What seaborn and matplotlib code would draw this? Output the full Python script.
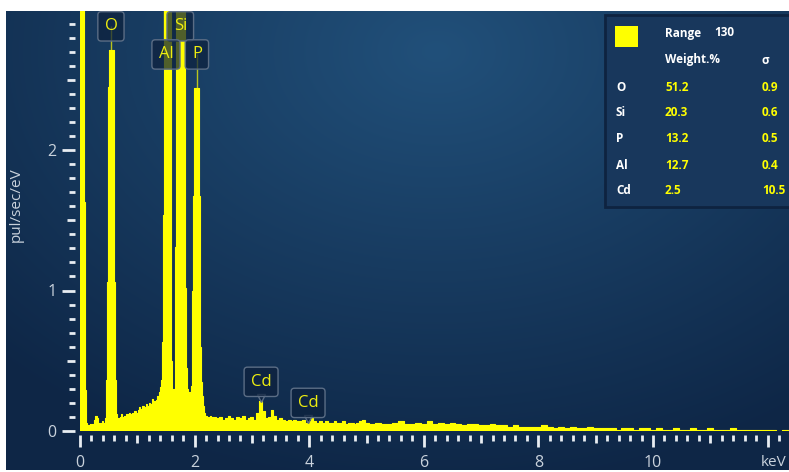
import numpy as np
import pandas as pd
import seaborn as sns
import matplotlib.pyplot as plt
from matplotlib.patches import Rectangle
from matplotlib.ticker import MultipleLocator
from matplotlib import transforms

# EDS spectrum, pul/sec/eV per channel
# channels: 0.02 keV up to 2.4 keV, 0.05 keV up to 5 keV, 0.1 keV after that
counts_fine = [
    5.0, 5.0, 5.0, 5.0, 1.63, 0.29, 0.06, 0.04, 0.04, 0.05,
    0.04, 0.05, 0.04, 0.08, 0.11, 0.09, 0.05, 0.06, 0.05, 0.06,
    0.07, 0.06, 0.09, 0.36, 1.06, 2.45, 2.71, 2.71, 2.71, 2.71,
    1.06, 0.36, 0.12, 0.08, 0.09, 0.10, 0.12, 0.09, 0.10, 0.11,
    0.10, 0.12, 0.11, 0.13, 0.12, 0.11, 0.13, 0.12, 0.14, 0.13,
    0.12, 0.15, 0.17, 0.16, 0.16, 0.18, 0.15, 0.17, 0.19, 0.16,
    0.18, 0.20, 0.19, 0.23, 0.21, 0.19, 0.21, 0.22, 0.25, 0.28,
    0.31, 0.36, 0.63, 1.54, 5.0, 5.0, 5.0, 5.0, 5.0, 5.0,
    0.50, 0.24, 0.30, 1.31, 5.0, 5.0, 5.0, 5.0, 5.0, 5.0,
    5.0, 5.0, 1.02, 0.45, 0.30, 0.27, 0.28, 0.32, 1.00, 1.67,
    2.44, 2.44, 2.44, 2.44, 1.67, 0.60, 0.35, 0.25, 0.18, 0.13,
    0.11, 0.10, 0.09, 0.10, 0.11, 0.09, 0.10, 0.09, 0.10, 0.09]
counts_mid = [
    0.09, 0.10, 0.08, 0.09, 0.11, 0.09, 0.08, 0.10, 0.09, 0.11,
    0.08, 0.09, 0.10, 0.08, 0.13, 0.21, 0.14, 0.09, 0.10, 0.15,
    0.11, 0.08, 0.09, 0.08, 0.07, 0.08, 0.07, 0.08, 0.07, 0.07,
    0.08, 0.06, 0.07, 0.10, 0.07, 0.06, 0.07, 0.06, 0.07, 0.06,
    0.06, 0.07, 0.06, 0.06, 0.07, 0.05, 0.06, 0.06, 0.05, 0.06,
    0.07, 0.08]
counts_tail = [
    0.06, 0.05, 0.06, 0.05, 0.05, 0.06, 0.07, 0.05, 0.05, 0.06,
    0.05, 0.07, 0.05, 0.06, 0.05, 0.06, 0.05, 0.04, 0.05, 0.05,
    0.04, 0.04, 0.05, 0.04, 0.04, 0.03, 0.04, 0.03, 0.03, 0.03,
    0.03, 0.04, 0.03, 0.02, 0.03, 0.02, 0.03, 0.02, 0.02, 0.03,
    0.02, 0.02, 0.02, 0.02, 0.01, 0.02, 0.02, 0.01, 0.02, 0.02,
    0.01, 0.02, 0.01, 0.01, 0.02, 0.01, 0.01, 0.02, 0.01, 0.01,
    0.02, 0.01, 0.01, 0.01, 0.02, 0.01, 0.01, 0.01, 0.01, 0.01,
    0.01, 0.01, 0.00, 0.01, 0.01]

# peak labels: name, keV, label height, top of the peak under it
peak_names = ['O', 'Si', 'Al', 'P', 'Cd', 'Cd']
peak_kev = [0.54, 1.75, 1.50, 2.04, 3.16, 3.98]
label_y = [2.88, 2.88, 2.68, 2.68, 0.35, 0.20]
peak_top = [2.71, None, None, 2.44, None, None]

# quantification table
elements = ['O', 'Si', 'P', 'Al', 'Cd']
weight_pct = ['51.2', '20.3', '13.2', '12.7', '2.5']
sigma = ['0.9', '0.6', '0.5', '0.4', '10.5']

YEL = '#ffff00'
TXT = '#c9d2dc'

energy = np.round(np.concatenate([np.arange(len(counts_fine)) * 0.02,
                                  2.4 + np.arange(len(counts_mid)) * 0.05,
                                  5.0 + np.arange(len(counts_tail)) * 0.1]), 3)
df = pd.DataFrame({'keV': energy, 'cps': counts_fine + counts_mid + counts_tail})

sns.set_theme(style='ticks')
plt.rcParams['font.family'] = ['Open Sans', 'DejaVu Sans']

W, H = 789, 472
fig = plt.figure(figsize=(W / 100, H / 100), dpi=100, facecolor='white')

def fx(px):
    return px / W

def fy(py):
    return 1 - py / H

# dark gradient background
bg = fig.add_axes([fx(6), 2 / H, fx(783), 459 / H], zorder=0)
yy, xx = np.mgrid[0:459, 0:783]
d = np.clip(np.sqrt(((xx - 430) / 620.0) ** 2 + ((yy - 40) / 440.0) ** 2), 0, 1)
c0 = np.array([33, 80, 122]) / 255.0
c1 = np.array([14, 38, 70]) / 255.0
img = c0[None, None, :] * (1 - d[..., None]) + c1[None, None, :] * d[..., None]
bg.imshow(img, aspect='auto', interpolation='bilinear')
bg.axis('off')

ax = fig.add_axes([fx(79), 41 / H, fx(710), 420 / H], zorder=1)
ax.patch.set_alpha(0)
sns.lineplot(data=df, x='keV', y='cps', drawstyle='steps-mid', color=YEL,
             lw=0.8, errorbar=None, ax=ax, zorder=2)
ax.fill_between(df['keV'], df['cps'], step='mid', color=YEL, lw=0, zorder=2)
ax.set_xlim(-1 / 57.3, 709 / 57.3)
ax.set_ylim(0, 420 / 140.5)
ax.set_xlabel('')
ax.set_ylabel('')
for s in ax.spines.values():
    s.set_visible(False)
ax.spines['left'].set_position(('outward', 3.2))
ax.spines['bottom'].set_position(('outward', 3.0))

# ticks
ax.set_xticks(np.arange(0, 13, 1))
ax.set_xticklabels([str(v) if v % 2 == 0 and v < 12 else '' for v in range(13)])
ax.xaxis.set_minor_locator(MultipleLocator(0.2))
ax.set_yticks([0, 0.5, 1, 1.5, 2, 2.5])
ax.set_yticklabels(['0', '', '1', '', '2', ''])
ax.yaxis.set_minor_locator(MultipleLocator(0.1))
ax.tick_params(axis='x', which='major', direction='out', length=8.6, width=2.0,
               color='#e8edf2', labelcolor=TXT, labelsize=11.5, pad=6)
ax.tick_params(axis='x', which='minor', direction='out', length=4.0, width=2.0,
               color='#e8edf2')
ax.tick_params(axis='y', which='major', direction='out', length=9.4, width=2.0,
               color='#e8edf2', labelcolor=TXT, labelsize=11.5, pad=3.5)
ax.tick_params(axis='y', which='minor', direction='out', length=4.3, width=2.0,
               color='#e8edf2')
for i, t in enumerate(ax.xaxis.get_major_ticks()):
    if i % 2 == 1:
        t.tick1line.set_markersize(5.8)
for i, t in enumerate(ax.yaxis.get_major_ticks()):
    if i % 2 == 1:
        t.tick1line.set_markersize(5.8)

# peak labels
box_fc = (0.05, 0.13, 0.24, 0.72)
box_ec = '#5b6d85'
notch = transforms.offset_copy(ax.transData, fig=fig, y=-16.5, units='dots')
for name, xk, yl, top in zip(peak_names, peak_kev, label_y, peak_top):
    if top is not None:
        ax.vlines(xk, top, yl, color=YEL, lw=1, alpha=0.7, zorder=3)
    ax.text(xk, yl, name, color='#eeee10', fontsize=12, ha='center', va='center',
            zorder=5, bbox=dict(boxstyle='round,pad=0.4,rounding_size=0.2',
                                fc=box_fc, ec=box_ec, lw=1))
    if name == 'Cd':
        ax.plot([xk], [yl], marker='v', ms=6, mfc=box_fc, mec=box_ec, mew=1,
                transform=notch, zorder=4, clip_on=False)
ax.vlines(1.47, 2.78, 3.0, color=YEL, lw=1, alpha=0.6, zorder=3)

# axis titles
fig.text(fx(16), fy(205), 'pul/sec/eV', rotation=90, color=TXT, fontsize=11,
         ha='center', va='center')
fig.text(fx(787), fy(462), 'keV', color=TXT, fontsize=11, ha='right', va='center')

# quantification panel
fig.patches.append(Rectangle((fx(605), fy(207)), fx(190), 192 / H, transform=fig.transFigure,
                             fc='#18375c', ec='#0e2340', lw=2, zorder=6))
fig.patches.append(Rectangle((fx(615), fy(47)), fx(23), 21 / H, transform=fig.transFigure,
                             fc=YEL, ec='none', zorder=7))
kw = dict(fontsize=8.5, fontweight='bold', va='center', zorder=8)
fig.text(fx(665), fy(33), 'Range', color='white', **kw)
fig.text(fx(714), fy(33), '130', color='white', **kw)
fig.text(fx(665), fy(60), 'Weight.%', color='white', **kw)
fig.text(fx(762), fy(60), 'σ', color='white', **kw)
for i, (el, w, s) in enumerate(zip(elements, weight_pct, sigma)):
    yrow = fy(87 + 26 * i)
    fig.text(fx(616), yrow, el, color='white', **kw)
    fig.text(fx(665), yrow, w, color=YEL, **kw)
    fig.text(fx(762), yrow, s, color=YEL, **kw)

fig.savefig('out.png', dpi=100)
